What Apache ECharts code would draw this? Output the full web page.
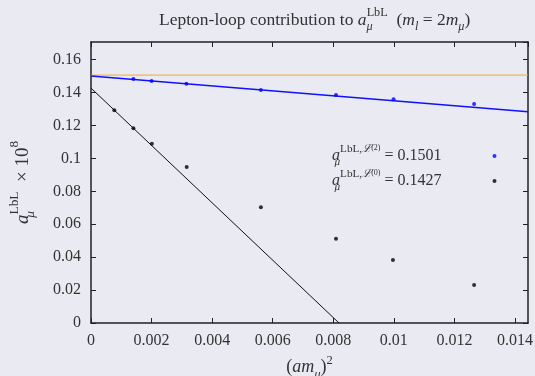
<!DOCTYPE html>
<html>
<head>
<meta charset="utf-8">
<script src="https://cdn.jsdelivr.net/npm/echarts@6/dist/echarts.min.js"></script>
<style>
  html, body { margin: 0; padding: 0; background: #eaeaf2; }
  #chart { width: 535px; height: 376px; }
</style>
</head>
<body>
<div id="chart"></div>
<script>
// (a m_mu)^2 and a_mu^LbL x 10^8 for the two kernel choices
const xL2 = [0.00140, 0.00200, 0.00315, 0.00561, 0.00809, 0.00999, 0.01265];
const yL2 = [0.1482, 0.1470, 0.1454, 0.1415, 0.1385, 0.1359, 0.1330];
const xL0 = [0.00077, 0.00140, 0.00201, 0.00316, 0.00561, 0.00809, 0.00997, 0.01265];
const yL0 = [0.1292, 0.1183, 0.1089, 0.0948, 0.0703, 0.0512, 0.0383, 0.0231];

// linear continuum extrapolations (end points) and reference value
const fitL2 = [[0, 0.1501], [0.01443, 0.1284]];
const fitL0 = [[0, 0.1427], [0.00819, 0]];
const refLine = [[0, 0.1506], [0.01443, 0.1506]];
const extrapolated = { L2: '0.1501', L0: '0.1427' };

const xMax = 0.01443, yMax = 0.1707;
const SERIF = '"Liberation Serif", "DejaVu Serif", serif';
const TXT = '#333';

const pairs = (xs, ys) => xs.map((x, i) => [x, ys[i]]);

const mathRich = (base) => {
  const f = { fontFamily: SERIF, fontWeight: 'normal', color: TXT };
  const s = base * 0.7;
  return {
    n:   Object.assign({}, f, { fontSize: base, lineHeight: base * 1.5 }),
    it:  Object.assign({}, f, { fontSize: base, fontStyle: 'italic', lineHeight: base * 1.5 }),
    sub: Object.assign({}, f, { fontSize: s, fontStyle: 'italic', verticalAlign: 'bottom', lineHeight: base * 0.95, width: 0.1 }),
    subw:Object.assign({}, f, { fontSize: s, fontStyle: 'italic', verticalAlign: 'bottom', lineHeight: base * 0.95 }),
    sup: Object.assign({}, f, { fontSize: s, verticalAlign: 'top', lineHeight: base * 0.85 }),
    cal: Object.assign({}, f, { fontFamily: '"DejaVu Serif", serif', fontSize: s, fontStyle: 'italic', verticalAlign: 'top', lineHeight: base * 0.85 }),
    ss:  Object.assign({}, f, { fontSize: base * 0.5, verticalAlign: 'top', lineHeight: base * 0.55 }),
    gap: { width: 46 }
  };
};

const axisCommon = {
  type: 'value',
  splitLine: { show: false },
  axisLine: { show: true, onZero: false, lineStyle: { color: '#222', width: 1.5 } },
  axisTick: { show: true, inside: true, length: 5, lineStyle: { color: '#222', width: 1 } }
};

const chart = echarts.init(document.getElementById('chart'));
chart.setOption({
  backgroundColor: '#eaeaf2',
  animation: false,
  title: {
    left: 154, top: 2,
    text: '{n|Lepton-loop contribution to }{it|a}{sub|μ}{sup|LbL}{n|  (}{it|m}{subw|l}{n| = 2}{it|m}{subw|μ}{n|)}',
    textStyle: { rich: mathRich(17.5) }
  },
  legend: {
    orient: 'vertical', left: 327, top: 139, align: 'right',
    icon: 'circle', itemWidth: 4, itemHeight: 4, itemGap: 1,
    data: ['L2', 'L0'],
    formatter: (name) => '{it|a}{sub|μ}{sup|LbL,}{cal|ℒ}{ss|(' + name.slice(1) + ')}{n| = ' + extrapolated[name] + '}{gap|}',
    textStyle: { rich: mathRich(16) }
  },
  grid: { left: 91, right: 7, top: 42, bottom: 53, outerBoundsMode: 'none', containLabel: false },
  xAxis: [
    Object.assign({}, axisCommon, {
      min: 0, max: xMax, interval: 0.002, position: 'bottom',
      axisLabel: { showMaxLabel: false, fontFamily: SERIF, fontSize: 16, color: TXT, margin: 10 },
      name: '{n|(}{it|am}{subw|μ}{n|)}{sup|2}',
      nameLocation: 'middle', nameGap: 19,
      nameTextStyle: { rich: mathRich(18) }
    }),
    Object.assign({}, axisCommon, {
      min: 0, max: xMax, interval: 0.002, position: 'top',
      axisLabel: { show: false }
    })
  ],
  yAxis: [
    Object.assign({}, axisCommon, {
      min: 0, max: yMax, interval: 0.02, position: 'left',
      axisLabel: { showMaxLabel: false, fontFamily: SERIF, fontSize: 16, color: TXT, margin: 10 },
      name: '{it|a}{sub|μ}{sup|LbL}{n|  × 10}{sup|8}',
      nameLocation: 'middle', nameRotate: 90, nameGap: 54,
      nameTextStyle: { rich: mathRich(19) }
    }),
    Object.assign({}, axisCommon, {
      min: 0, max: yMax, interval: 0.02, position: 'right',
      axisLabel: { show: false }
    })
  ],
  series: [
    {
      name: 'ref', type: 'line', data: refLine, symbol: 'none', silent: true,
      lineStyle: { color: '#f0a838', width: 1 }, z: 1
    },
    {
      name: 'fitL2', type: 'line', data: fitL2, symbol: 'none', silent: true,
      lineStyle: { color: '#1010ff', width: 1.5 }, z: 2
    },
    {
      name: 'fitL0', type: 'line', data: fitL0, symbol: 'none', silent: true,
      lineStyle: { color: '#111', width: 1 }, z: 2
    },
    {
      name: 'L2', type: 'scatter', data: pairs(xL2, yL2), symbol: 'circle', symbolSize: 4,
      itemStyle: { color: '#0000ff' }, z: 3
    },
    {
      name: 'L0', type: 'scatter', data: pairs(xL0, yL0), symbol: 'circle', symbolSize: 4,
      itemStyle: { color: '#000' }, z: 3
    }
  ]
});
</script>
</body>
</html>
